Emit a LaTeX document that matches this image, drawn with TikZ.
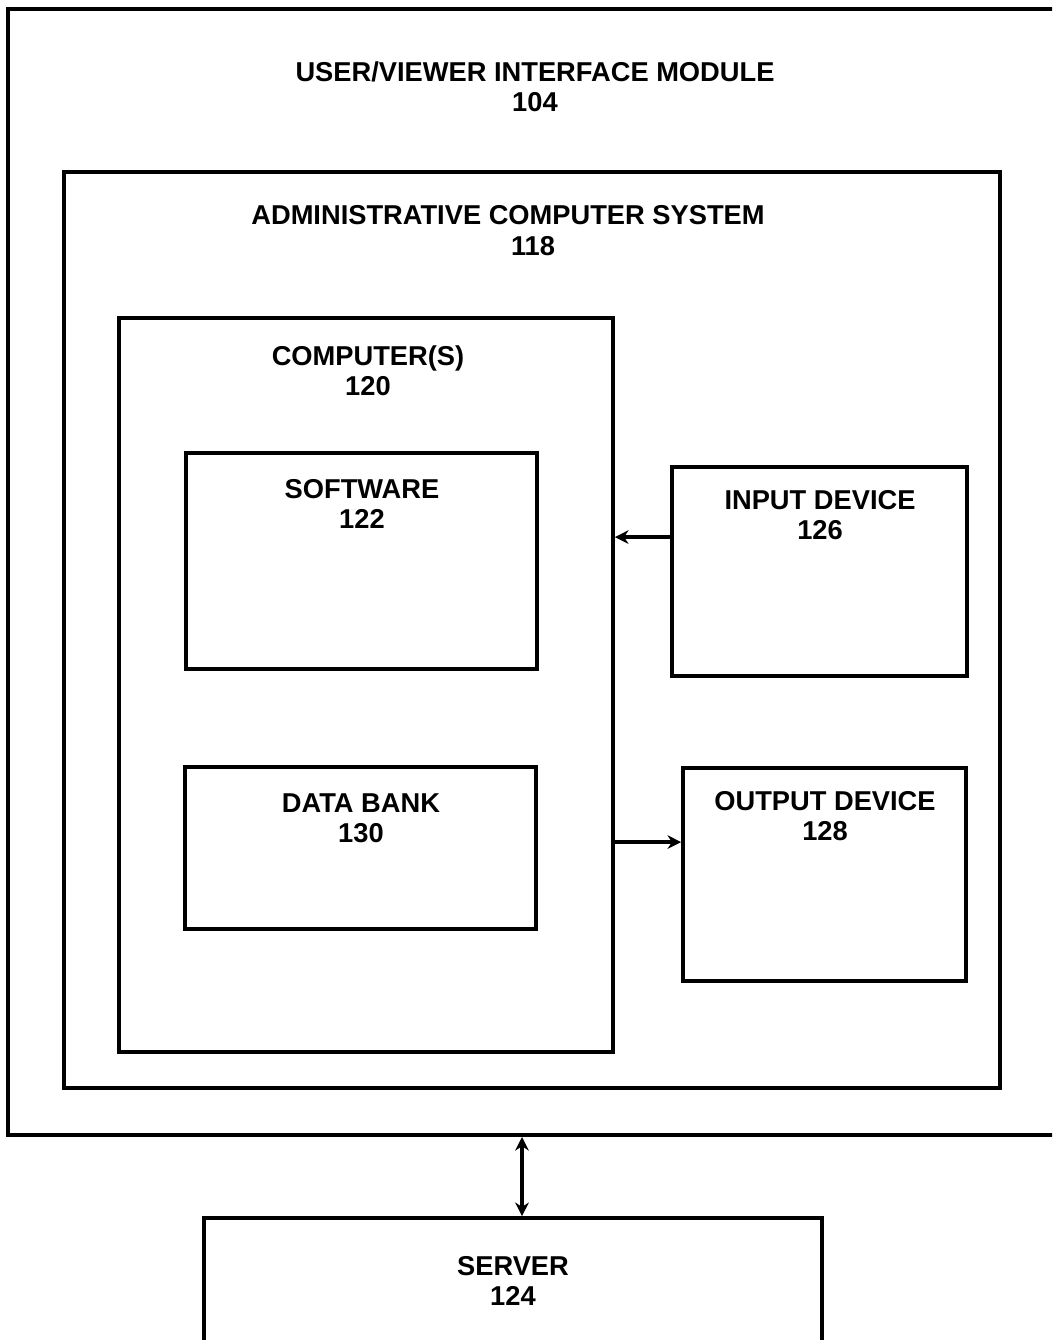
\documentclass[tikz,border=0pt]{standalone}
\usepackage{fontspec}
\setmainfont{Liberation Sans}
\usepackage{tikz}
\usetikzlibrary{arrows.meta,positioning}

\begin{document}
\begin{tikzpicture}[x=0.025cm, y=-0.025cm,
    box/.style={draw, line width=2.6pt, rectangle, inner sep=0pt},
    lbl/.style={align=center, font=\fontsize{19.4}{21.3}\selectfont\bfseries},
    arr/.style={line width=2.4pt, -{Stealth[length=3.4mm, width=3.4mm]}}]
    \useasboundingbox (0,0) rectangle (1052,1340);
    \clip (0,0) rectangle (1052,1340);

    % Outer module and system boxes
    \node[box, minimum width=26.55cm, minimum height=28.15cm] (umod) at (539,572) {};
    \node[box, minimum width=23.4cm, minimum height=22.9cm] (acs) at (532,630) {};
    \node[box, minimum width=12.35cm, minimum height=18.35cm] (comp) at (366,685) {};

    % Inner boxes
    \node[box, minimum width=8.775cm, minimum height=5.4cm] (sw) at (361.5,561) {};
    \node[box, minimum width=8.775cm, minimum height=4.05cm] (db) at (360.5,848) {};
    \node[box, minimum width=7.375cm, minimum height=5.225cm] (inp) at (819.5,571.5) {};
    \node[box, minimum width=7.075cm, minimum height=5.325cm] (outp) at (824.5,874.5) {};
    \node[box, minimum width=15.45cm, minimum height=3.55cm] (srv) at (513,1289) {};

    % Labels
    \node[lbl] (umodlbl) at (535,87) {USER/VIEWER INTERFACE MODULE\\104};
    \node[lbl] (acslbl) at (508,215) {ADMINISTRATIVE COMPUTER SYSTEM};
    \node[lbl] (acsnum) at (533,246) {118};
    \node[lbl] (complbl) at (368,371) {COMPUTER(S)\\120};
    \node[lbl] (swlbl) at (362,503.5) {SOFTWARE\\122};
    \node[lbl] (dblbl) at (361,818.5) {DATA BANK\\130};
    \node[lbl] (inplbl) at (820,515.5) {INPUT DEVICE\\126};
    \node[lbl] (outplbl) at (825,816.5) {OUTPUT DEVICE\\128};
    \node[lbl] (srvlbl) at (513,1281) {SERVER\\124};

    % Connections
    \draw[arr] ([yshift=0.86cm]inp.west) -- ([yshift=0.86cm]inp.west -| comp.east);
    \draw[arr] ([yshift=0.81cm]outp.west -| comp.east) -- ([yshift=0.81cm]outp.west);
    \draw[arr, {Stealth[length=3.4mm, width=3.4mm]}-{Stealth[length=3.4mm, width=3.4mm]}]
        ([xshift=0.225cm]srv.north |- umod.south) -- ([xshift=0.225cm]srv.north);
\end{tikzpicture}
\end{document}
